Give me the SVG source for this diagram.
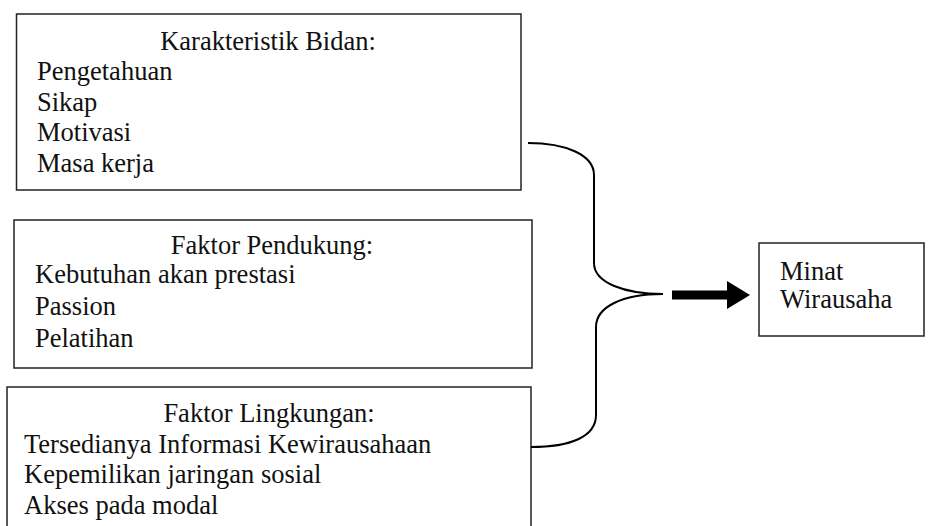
<svg xmlns="http://www.w3.org/2000/svg" width="928" height="526" viewBox="0 0 928 526">
<style>
.box{fill:#fff;stroke:#222;stroke-width:1.5}
.t{font-family:"Liberation Serif","Times New Roman",serif;font-size:26.5px;fill:#111}
.c{text-anchor:middle}
.conn{fill:none;stroke:#000;stroke-width:2}
</style>
<rect width="928" height="526" fill="#fff"/>
<g id="node-karakteristik">
<rect class="box" x="16.5" y="14" width="504.5" height="176"/>
<text class="t c" x="268" y="49.5">Karakteristik Bidan:</text>
<text class="t" x="37" y="80">Pengetahuan</text>
<text class="t" x="37" y="110.5">Sikap</text>
<text class="t" x="37" y="141">Motivasi</text>
<text class="t" x="37" y="171.5">Masa kerja</text>
</g>
<g id="node-pendukung">
<rect class="box" x="14" y="220" width="518" height="148"/>
<text class="t c" x="272" y="254">Faktor Pendukung:</text>
<text class="t" x="35" y="283">Kebutuhan akan prestasi</text>
<text class="t" x="35" y="315">Passion</text>
<text class="t" x="35" y="346.5">Pelatihan</text>
</g>
<g id="node-lingkungan">
<rect class="box" x="7" y="387" width="524" height="160"/>
<text class="t c" x="269" y="422">Faktor Lingkungan:</text>
<text class="t" x="24" y="452.5">Tersedianya Informasi Kewirausahaan</text>
<text class="t" x="24" y="483">Kepemilikan jaringan sosial</text>
<text class="t" x="24" y="513.5">Akses pada modal</text>
</g>
<g id="node-minat">
<rect class="box" x="759" y="243" width="165" height="93"/>
<text class="t" x="780" y="280">Minat</text>
<text class="t" x="780" y="308">Wirausaha</text>
</g>
<g id="connectors">
<path class="conn" d="M528,143 C566,143 594,155 594,175 L594,263 C594,283 625,294 663,294 C622,294 596,307 596,327 L596,415 C596,437 570,447 531,447"/>
<rect x="672" y="290.5" width="56" height="9" fill="#000"/>
<polygon points="727,281 750,295 727,309" fill="#000"/>
</g>
</svg>
